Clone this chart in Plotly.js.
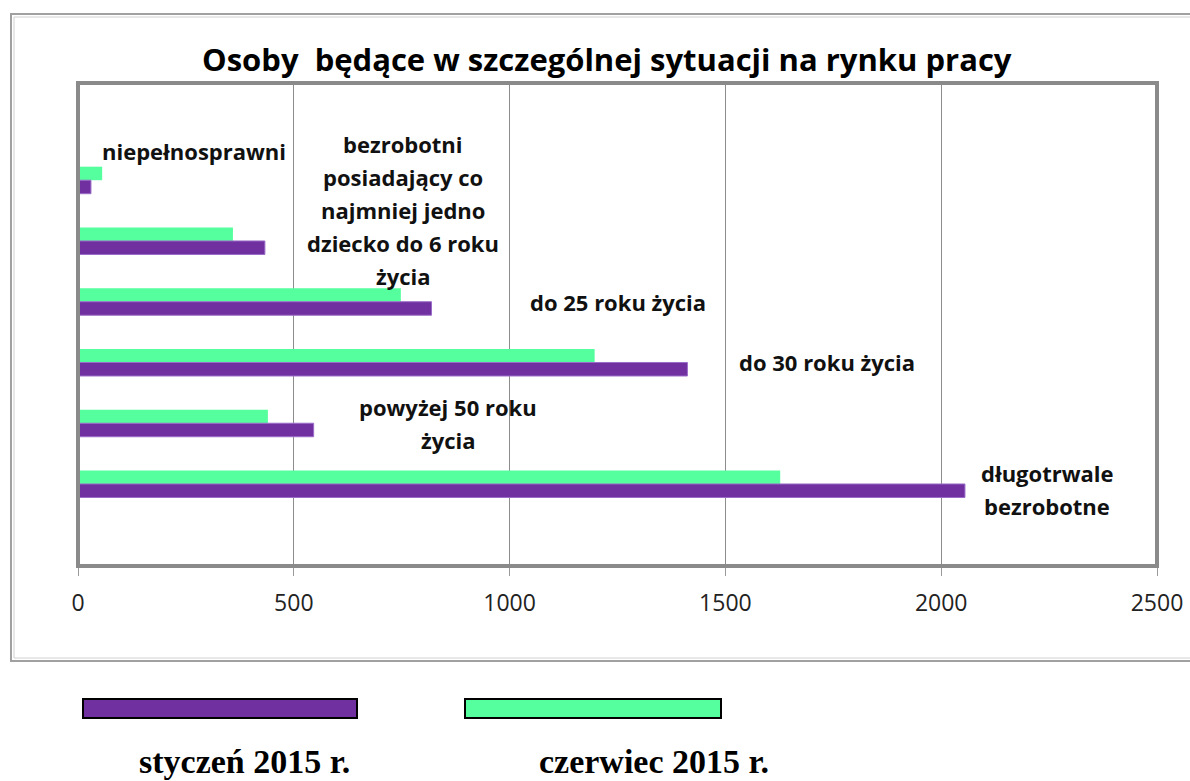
<!DOCTYPE html>
<html>
<head>
<meta charset="utf-8">
<script src="https://cdn.plot.ly/plotly-3.0.1.min.js"></script>
<style>html,body{margin:0;padding:0;background:#fff;}#chart{width:1190px;height:781px;}</style>
</head>
<body>
<div id="chart"></div>
<script>
// ---- data ----
var categories = [
  "niepełnosprawni",
  "bezrobotni<br>posiadający co<br>najmniej jedno<br>dziecko do 6 roku<br>życia",
  "do 25 roku życia",
  "do 30 roku życia",
  "powyżej 50 roku<br>życia",
  "długotrwale<br>bezrobotne"
];
var styczen = [30, 433, 819, 1412, 546, 2055];
var czerwiec = [56, 359, 748, 1197, 440, 1627];
var seriesNames = ["styczeń 2015 r.", "czerwiec 2015 r."];
var tickValues = [0, 500, 1000, 1500, 2000, 2500];

// ---- layout geometry (pixels) ----
var W = 1190, H = 781;
var L = 78, R = 1157, T = 83, B = 566;
function px(x){ return (x - L) / (R - L); }
function py(y){ return (B - y) / (B - T); }

// label placement: [x center px, first line y px]
var labelPos = [[194,151],[403,144],[618,302],[827,362],[448,407],[1047,473]];
var lineStep = 33;

var catIdx = categories.map(function(c,i){return i;});

var traces = [
  {type:'bar', orientation:'h', name:seriesNames[1], y:catIdx, x:czerwiec,
   marker:{color:'#55FF9E', line:{width:0}}, hoverinfo:'x'},
  {type:'bar', orientation:'h', name:seriesNames[0], y:catIdx, x:styczen,
   marker:{color:'#7030A0', line:{color:'#9a6cc8', width:1}}, hoverinfo:'x'}
];

var annotations = [];
categories.forEach(function(c, i){
  var lines = c.split('<br>');
  lines.forEach(function(ln, j){
    annotations.push({xref:'paper', yref:'paper', x:px(labelPos[i][0]), y:py(labelPos[i][1] + j*lineStep),
      text:ln, showarrow:false, xanchor:'center', yanchor:'middle',
      font:{family:'Open Sans', size:22, color:'#111', weight:'bold'}});
  });
});
// title
annotations.push({xref:'paper', yref:'paper', x:px(607), y:py(59), text:'Osoby  będące w szczególnej sytuacji na rynku pracy',
  showarrow:false, xanchor:'center', yanchor:'middle', font:{family:'Open Sans', size:31, color:'#000', weight:'bold'}});
// legend labels
annotations.push({xref:'paper', yref:'paper', x:px(244), y:py(761), text:seriesNames[0], showarrow:false,
  xanchor:'center', yanchor:'middle', font:{family:'Liberation Serif', size:34, color:'#000', weight:'bold'}});
annotations.push({xref:'paper', yref:'paper', x:px(654), y:py(761), text:seriesNames[1], showarrow:false,
  xanchor:'center', yanchor:'middle', font:{family:'Liberation Serif', size:34, color:'#000', weight:'bold'}});

var shapes = [
  // outer frame (double line)
  {type:'rect', xref:'paper', yref:'paper', x0:px(11), x1:px(1200), y0:py(661), y1:py(14), line:{color:'#a0a0a0', width:2}, layer:'below'},
  {type:'rect', xref:'paper', yref:'paper', x0:px(14), x1:px(1200), y0:py(658), y1:py(17), line:{color:'#d0d0d0', width:1}, layer:'below'},
  // plot border
  {type:'rect', xref:'paper', yref:'paper', x0:0, x1:1, y0:0, y1:1, line:{color:'#8a8a8a', width:4}},
  // legend swatches
  {type:'rect', xref:'paper', yref:'paper', x0:px(83), x1:px(357), y0:py(718), y1:py(699), fillcolor:'#7030A0', line:{color:'#000', width:2}},
  {type:'rect', xref:'paper', yref:'paper', x0:px(465), x1:px(721), y0:py(718), y1:py(699), fillcolor:'#55FF9E', line:{color:'#000', width:2}}
];

var layout = {
  width:W, height:H,
  margin:{l:L, r:W-R, t:T, b:H-B, pad:0},
  paper_bgcolor:'#fff', plot_bgcolor:'#fff',
  showlegend:false,
  barmode:'group', bargap:0.555, bargroupgap:0,
  xaxis:{range:[0,2500], tickvals:tickValues, ticktext:tickValues.map(String),
    showgrid:true, gridcolor:'#8c8c8c', gridwidth:1, zeroline:false,
    ticks:'outside', ticklen:9, tickcolor:'#9a9a9a', tickwidth:1,
    showline:false, tickfont:{family:'Open Sans', size:23, color:'#222'}, ticklabelstandoff:7},
  yaxis:{type:'linear', range:[6.35,-1.6], showticklabels:false, showgrid:false, zeroline:false, ticks:'', showline:false},
  annotations:annotations,
  shapes:shapes
};

Plotly.newPlot('chart', traces, layout, {displayModeBar:false, staticPlot:true});
</script>
</body>
</html>
